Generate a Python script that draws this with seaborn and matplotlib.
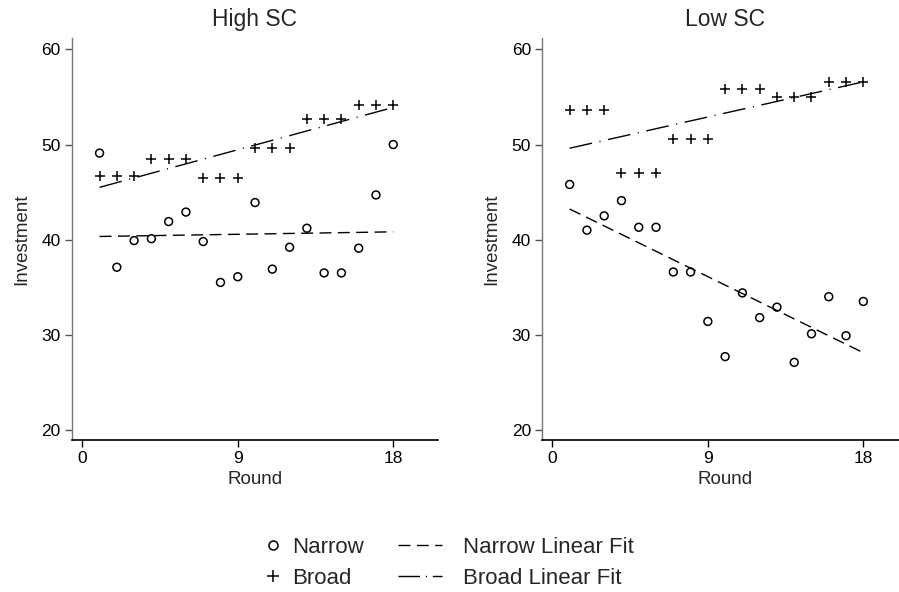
import numpy as np
import pandas as pd
import seaborn as sns
import matplotlib.pyplot as plt
from matplotlib.lines import Line2D

# values
rounds = list(range(1, 19))
high_narrow = [49.1, 37.1, 39.9, 40.1, 41.9, 42.9, 39.8, 35.5, 36.1,
               43.9, 36.9, 39.2, 41.2, 36.5, 36.5, 39.1, 44.7, 50.0]
high_broad = [46.7, 46.7, 46.7, 48.5, 48.5, 48.5, 46.5, 46.5, 46.5,
              49.6, 49.6, 49.6, 52.7, 52.7, 52.7, 54.2, 54.2, 54.2]
low_narrow = [45.8, 41.0, 42.5, 44.1, 41.3, 41.3, 36.6, 36.6, 31.4,
              27.7, 34.4, 31.8, 32.9, 27.1, 30.1, 34.0, 29.9, 33.5]
low_broad = [53.6, 53.6, 53.6, 47.0, 47.0, 47.0, 50.6, 50.6, 50.6,
             55.8, 55.8, 55.8, 55.0, 55.0, 55.0, 56.6, 56.6, 56.6]
panels = ['High SC', 'Low SC']

df = pd.concat([
    pd.DataFrame({'Round': rounds, 'Investment': high_narrow, 'SC': 'High SC', 'Type': 'Narrow'}),
    pd.DataFrame({'Round': rounds, 'Investment': high_broad, 'SC': 'High SC', 'Type': 'Broad'}),
    pd.DataFrame({'Round': rounds, 'Investment': low_narrow, 'SC': 'Low SC', 'Type': 'Narrow'}),
    pd.DataFrame({'Round': rounds, 'Investment': low_broad, 'SC': 'Low SC', 'Type': 'Broad'}),
])

sns.set_style('ticks')
plt.rcParams['font.family'] = ['Liberation Sans', 'DejaVu Sans']
plt.rcParams['lines.scale_dashes'] = False

narrow_ls = (0, (8.6, 4.6))
broad_ls = (0, (16.5, 5.5, 0.8, 5.5))

fig = plt.figure(figsize=(8.99, 5.92), dpi=100)
ax_pos = [[0.080, 0.2562, 0.4068, 0.6796], [0.6029, 0.2562, 0.4068, 0.6796]]

for pos, panel in zip(ax_pos, panels):
    ax = fig.add_axes(pos)
    sub = df[df['SC'] == panel]
    nar = sub[sub['Type'] == 'Narrow']
    bro = sub[sub['Type'] == 'Broad']
    sns.scatterplot(data=nar, x='Round', y='Investment', marker='o', s=32,
                    facecolor='none', edgecolor='black', linewidth=1.1, ax=ax)
    sns.scatterplot(data=bro, x='Round', y='Investment', marker='+', s=42,
                    color='black', linewidth=1.1, ax=ax)
    sns.regplot(data=nar, x='Round', y='Investment', scatter=False, ci=None, ax=ax,
                line_kws={'color': 'black', 'linewidth': 1.0, 'linestyle': narrow_ls})
    sns.regplot(data=bro, x='Round', y='Investment', scatter=False, ci=None, ax=ax,
                line_kws={'color': 'black', 'linewidth': 1.0, 'linestyle': broad_ls})

    ax.set_xlim(-0.6, 20.57)
    ax.set_ylim(18.9, 61.2)
    ax.set_xticks([0, 9, 18])
    ax.set_yticks([20, 30, 40, 50, 60])
    ax.tick_params(axis='both', labelsize=12.5, length=5, width=1, direction='out', pad=3)
    ax.tick_params(axis='y', colors='#555555', labelcolor='black')
    ax.tick_params(axis='x', colors='black')
    sns.despine(ax=ax)
    ax.spines['left'].set_color('#777777')
    ax.spines['bottom'].set_color('black')
    ax.spines['left'].set_linewidth(1.0)
    ax.spines['bottom'].set_linewidth(1.2)
    ax.set_xlabel('Round', fontsize=13.5, labelpad=3)
    ax.set_ylabel('Investment', fontsize=13.5, labelpad=8)
    ax.set_title(panel, fontsize=16.5, pad=9)

# legend: markers on the left, fit lines on the right
marker_handles = [
    Line2D([], [], marker='o', linestyle='none', markerfacecolor='none',
           markeredgecolor='black', markersize=6.5, markeredgewidth=1.1),
    Line2D([], [], marker='+', linestyle='none', color='black',
           markersize=8, markeredgewidth=1.1),
]
line_handles = [
    Line2D([], [], color='black', linewidth=1.0, linestyle=(0, (8.6, 4.6))),
    Line2D([], [], color='black', linewidth=1.0, linestyle=(0, (15.5, 4.2, 0.8, 4.2))),
]
leg_kw = dict(loc='center left', frameon=False, fontsize=16, borderpad=0,
              borderaxespad=0, labelspacing=0.43)
leg1 = fig.legend(marker_handles, ['Narrow', 'Broad'], bbox_to_anchor=(0.2934, 0.049),
                  handlelength=0.8, handletextpad=0.48, **leg_kw)
leg2 = fig.legend(line_handles, ['Narrow Linear Fit', 'Broad Linear Fit'],
                  bbox_to_anchor=(0.4427, 0.049), handlelength=1.98,
                  handletextpad=0.95, **leg_kw)

fig.savefig('out.png', dpi=100)
